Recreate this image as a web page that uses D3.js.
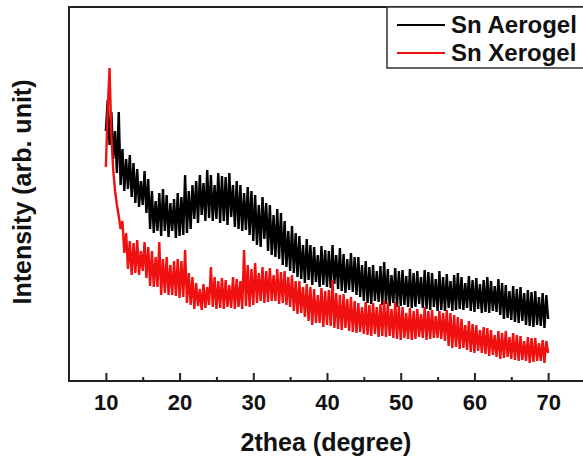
<!DOCTYPE html>
<html>
<head>
<meta charset="utf-8">
<script src="https://cdn.jsdelivr.net/npm/d3@7/dist/d3.min.js"></script>
<style>
  html, body { margin: 0; padding: 0; background: #fff; }
  svg { display: block; }
  text { font-family: "Liberation Sans", Arial, sans-serif; font-weight: bold; fill: #111; }
</style>
</head>
<body>
<svg id="chart" width="583" height="459"></svg>
<script>
// ---- Data (arbitrary intensity units) ----
const seriesNames = ["Sn Aerogel", "Sn Xerogel"];
const seriesColors = ["#000000", "#f01010"];
const xTicks = [10, 20, 30, 40, 50, 60, 70];
const xMinorTicks = [15, 25, 35, 45, 55, 65];
const xLabel = "2thea (degree)";
const yLabel = "Intensity (arb. unit)";

// 2theta sampling grid: 10.00 to 70.00 degrees in 0.25 degree steps
const twoTheta = d3.range(0, 241).map(i => 10 + i * 0.25);

const aerogel = [
  250, 281, 236, 269, 222, 250, 208, 269,
  196, 232, 190, 222, 192, 226, 184, 218,
  178, 212, 174, 200, 176, 210, 168, 202,
  152, 190, 148, 180, 150, 188, 145, 192,
  150, 186, 144, 178, 150, 182, 143, 188,
  145, 184, 146, 206, 148, 190, 152, 196,
  162, 200, 158, 206, 166, 198, 160, 211,
  163, 206, 160, 196, 162, 208, 158, 205,
  160, 204, 156, 208, 164, 196, 154, 200,
  152, 196, 150, 188, 151, 194, 146, 190,
  140, 186, 136, 176, 134, 184, 142, 178,
  130, 176, 126, 166, 124, 172, 122, 168,
  116, 160, 114, 150, 110, 155, 108, 148,
  104, 145, 102, 136, 98, 142, 101, 136,
  96, 134, 99, 126, 94, 135, 96, 131,
  94, 130, 93, 136, 97, 126, 92, 133,
  90, 127, 88, 122, 91, 128, 89, 124,
  86, 124, 84, 116, 80, 120, 78, 114,
  77, 116, 80, 110, 79, 115, 76, 119,
  77, 112, 75, 106, 78, 113, 74, 110,
  75, 111, 76, 105, 74, 112, 73, 108,
  74, 110, 77, 104, 73, 111, 72, 109,
  71, 108, 74, 102, 70, 110, 71, 104,
  70, 107, 73, 100, 70, 106, 71, 108,
  72, 104, 71, 98, 73, 105, 70, 101,
  69, 103, 72, 97, 68, 101, 69, 104,
  68, 100, 70, 95, 69, 102, 66, 98,
  62, 96, 63, 90, 61, 95, 59, 92,
  58, 94, 60, 88, 56, 91, 55, 89,
  54, 90, 56, 84, 55, 88, 53, 86,
  62
];

const xerogel = [
  214, 271, 313, 245, 211, 190, 176, 165,
  152, 160, 128, 148, 112, 140, 106, 138,
  108, 141, 106, 130, 110, 139, 103, 134,
  95, 130, 94, 124, 94, 139, 86, 122,
  88, 124, 86, 116, 86, 120, 85, 122,
  83, 120, 84, 131, 78, 108, 76, 104,
  72, 98, 75, 92, 71, 97, 73, 94,
  76, 114, 74, 104, 72, 100, 73, 103,
  72, 101, 74, 96, 73, 104, 72, 102,
  74, 100, 72, 131, 75, 116, 74, 112,
  76, 118, 78, 108, 80, 114, 78, 110,
  79, 113, 80, 106, 80, 112, 77, 109,
  78, 110, 76, 104, 74, 106, 70, 100,
  67, 100, 68, 94, 64, 97, 60, 94,
  56, 92, 58, 86, 58, 93, 54, 90,
  56, 91, 55, 101, 53, 88, 52, 86,
  51, 87, 53, 82, 50, 84, 49, 80,
  48, 78, 49, 74, 47, 79, 46, 76,
  45, 78, 47, 74, 44, 77, 45, 81,
  44, 78, 45, 72, 43, 79, 42, 75,
  41, 74, 43, 68, 42, 73, 41, 70,
  42, 72, 44, 67, 43, 74, 41, 70,
  42, 71, 43, 65, 43, 70, 42, 68,
  40, 71, 35, 68, 33, 66, 34, 64,
  32, 62, 33, 56, 31, 60, 29, 57,
  28, 56, 30, 51, 28, 54, 27, 53,
  25, 51, 26, 46, 24, 50, 22, 48,
  23, 50, 24, 44, 22, 48, 21, 46,
  20, 45, 21, 40, 20, 44, 18, 43,
  19, 43, 20, 38, 20, 41, 18, 40,
  28
];

const seriesValues = [aerogel, xerogel];

// ---- Layout ----
const svg = d3.select("#chart");
const plot = { left: 69, top: 7, right: 585, bottom: 381 };

const x = d3.scaleLinear().domain([5, 75]).range([plot.left, plot.right]);
const y = d3.scaleLinear().domain([0, 374]).range([plot.bottom, plot.top]);

const line = d3.line()
  .x((d, i) => x(twoTheta[i]))
  .y(d => y(d));

[0, 1].forEach(k => {
  svg.append("path")
    .datum(seriesValues[k])
    .attr("fill", "none")
    .attr("stroke", seriesColors[k])
    .attr("stroke-width", 2.4)
    .attr("stroke-linejoin", "bevel")
    .attr("d", line);
});

// Frame
svg.append("rect")
  .attr("x", plot.left).attr("y", plot.top)
  .attr("width", plot.right - plot.left).attr("height", plot.bottom - plot.top)
  .attr("fill", "none").attr("stroke", "#222").attr("stroke-width", 2);

// Bottom axis: ticks inward, labels below
const xAxis = d3.axisBottom(x).tickValues(xTicks).tickSizeInner(-8).tickSizeOuter(0).tickPadding(13);
const gx = svg.append("g").attr("transform", `translate(0,${plot.bottom})`).call(xAxis);
gx.select(".domain").remove();
gx.selectAll(".tick line").attr("stroke", "#222").attr("stroke-width", 2);
gx.selectAll(".tick text")
  .attr("font-size", 22).attr("font-weight", "bold")
  .attr("font-family", "'Liberation Sans', Arial, sans-serif").attr("fill", "#111");

const xAxisMinor = d3.axisBottom(x).tickValues(xMinorTicks).tickSizeInner(-4).tickSizeOuter(0).tickFormat("");
const gxm = svg.append("g").attr("transform", `translate(0,${plot.bottom})`).call(xAxisMinor);
gxm.select(".domain").remove();
gxm.selectAll(".tick line").attr("stroke", "#222").attr("stroke-width", 2);

// Axis titles
svg.append("text")
  .attr("x", 326).attr("y", 451)
  .attr("text-anchor", "middle")
  .attr("font-size", 25)
  .text(xLabel);

svg.append("text")
  .attr("transform", "translate(31,192) rotate(-90)")
  .attr("text-anchor", "middle")
  .attr("font-size", 25)
  .text(yLabel);

// Legend
const lg = svg.append("g");
lg.append("rect")
  .attr("x", 387).attr("y", plot.top)
  .attr("width", 210).attr("height", 61)
  .attr("fill", "#fff").attr("stroke", "#333").attr("stroke-width", 1.5);
seriesNames.forEach((name, i) => {
  const cy = 25 + i * 28;
  lg.append("line")
    .attr("x1", 397).attr("x2", 445).attr("y1", cy).attr("y2", cy)
    .attr("stroke", seriesColors[i]).attr("stroke-width", 2);
  lg.append("text")
    .attr("x", 451).attr("y", cy + 8)
    .attr("font-size", 24)
    .text(name);
});
</script>
</body>
</html>
